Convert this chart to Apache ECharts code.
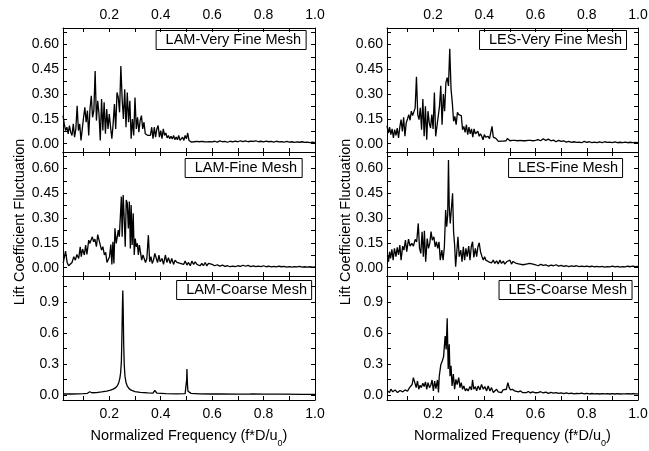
<!DOCTYPE html>
<html>
<head>
<meta charset="utf-8">
<script src="https://cdn.jsdelivr.net/npm/echarts@6/dist/echarts.min.js"></script>
<style>
  html, body { margin: 0; padding: 0; background: #fff; }
  #chart { width: 649px; height: 451px; }
</style>
</head>
<body>
<div id="chart"></div>
<script>
// frequency grid (f*D/u0) for the very fine mesh spectra, 0.02 .. 0.60
const gridFreq = [
  0.020,0.025,0.030,0.035,0.040,0.045,0.050,0.055,0.060,0.065,
  0.070,0.075,0.080,0.085,0.090,0.095,0.100,0.105,0.110,0.115,
  0.120,0.125,0.130,0.135,0.140,0.145,0.150,0.155,0.160,0.165,
  0.170,0.175,0.180,0.185,0.190,0.195,0.200,0.205,0.210,0.215,
  0.220,0.225,0.230,0.235,0.240,0.245,0.250,0.255,0.260,0.265,
  0.270,0.275,0.280,0.285,0.290,0.295,0.300,0.305,0.310,0.315,
  0.320,0.325,0.330,0.335,0.340,0.345,0.350,0.355,0.360,0.365,
  0.370,0.375,0.380,0.385,0.390,0.395,0.400,0.405,0.410,0.415,
  0.420,0.425,0.430,0.435,0.440,0.445,0.450,0.455,0.460,0.465,
  0.470,0.475,0.480,0.485,0.490,0.495,0.500,0.505,0.510,0.515,
  0.520,0.525,0.530,0.535,0.540,0.545,0.550,0.555,0.560,0.565,
  0.570,0.575,0.580,0.585,0.590,0.595,0.600
];
// high frequency tail, 0.61 .. 1.00
const tailFreq = [
  0.61,0.62,0.63,0.64,0.65,0.66,0.67,0.68,0.69,0.70,
  0.71,0.72,0.73,0.74,0.75,0.76,0.77,0.78,0.79,0.80,
  0.81,0.82,0.83,0.84,0.85,0.86,0.87,0.88,0.89,0.90,
  0.91,0.92,0.93,0.94,0.95,0.96,0.97,0.98,0.99,1.00
];

const lamVeryFine = [
  0.17,0.12,0.08,0.10,0.06,0.11,0.07,0.05,0.12,0.04,
  0.09,0.23,0.08,0.12,0.02,0.09,0.16,0.22,0.13,0.20,
  0.05,0.21,0.29,0.16,0.20,0.44,0.14,0.26,0.18,0.02,
  0.27,0.08,0.25,0.06,0.21,0.09,0.18,0.10,0.03,0.12,
  0.24,0.09,0.31,0.28,0.19,0.47,0.27,0.15,0.33,0.10,
  0.31,0.13,0.26,0.03,0.15,0.05,0.28,0.09,0.16,0.07,
  0.14,0.17,0.09,0.13,0.06,0.055,0.05,0.055,0.05,0.10,
  0.03,0.10,0.04,0.09,0.11,0.04,0.08,0.03,0.09,0.05,
  0.065,0.035,0.05,0.03,0.045,0.028,0.05,0.025,0.04,0.024,
  0.05,0.02,0.03,0.04,0.02,0.05,0.03,0.065,0.02,0.025,
  0.01,0.02,0.012,0.022,0.014,0.02,0.012,0.018,0.014,0.02,
  0.012,0.017,0.011,0.018,0.012,0.016,0.011
];
const lamVeryFineTail = [
  0.015,0.01,0.017,0.012,0.014,0.009,0.015,0.011,0.016,0.012,
  0.018,0.013,0.017,0.012,0.016,0.014,0.018,0.012,0.015,0.011,
  0.016,0.012,0.014,0.01,0.015,0.011,0.013,0.009,0.014,0.01,
  0.012,0.008,0.011,0.009,0.012,0.008,0.01,0.007,0.009,0.006
];

const lesVeryFine = [
  0.11,0.065,0.10,0.055,0.09,0.035,0.085,0.05,0.095,0.035,
  0.10,0.146,0.075,0.16,0.045,0.126,0.15,0.176,0.142,0.197,
  0.17,0.18,0.217,0.405,0.176,0.146,0.217,0.085,0.27,0.045,
  0.227,0.024,0.197,0.126,0.095,0.176,0.09,0.31,0.045,0.055,
  0.166,0.227,0.35,0.115,0.30,0.197,0.37,0.40,0.35,0.575,
  0.33,0.247,0.136,0.166,0.115,0.19,0.176,0.182,0.17,0.085,
  0.105,0.069,0.115,0.055,0.10,0.06,0.09,0.04,0.09,0.06,
  0.055,0.075,0.045,0.06,0.045,0.024,0.055,0.04,0.035,0.045,
  0.03,0.024,0.105,0.04,0.028,0.032,0.02,0.014,0.025,0.016,
  0.024,0.016,0.028,0.018,0.032,0.02,0.018,0.03,0.02,0.028,
  0.02,0.032,0.018,0.025,0.02,0.028,0.018,0.03,0.018,0.028,
  0.02,0.026,0.02,0.028,0.018,0.03,0.02
];
const lesVeryFineTail = [
  0.025,0.018,0.03,0.02,0.028,0.018,0.022,0.012,0.02,0.014,
  0.018,0.01,0.014,0.008,0.012,0.008,0.01,0.006,0.014,0.008,
  0.012,0.007,0.01,0.006,0.011,0.007,0.012,0.008,0.01,0.007,
  0.011,0.006,0.009,0.007,0.01,0.006,0.009,0.007,0.008,0.006
];

const lamFine = [
  [0.021,0.03],[0.023,0.046],[0.030,0.10],[0.036,0.032],[0.042,0.012],[0.049,0.016],[0.055,0.032],
  [0.062,0.067],[0.068,0.046],[0.074,0.08],[0.081,0.056],[0.087,0.127],[0.091,0.067],[0.096,0.113],
  [0.103,0.077],[0.108,0.137],[0.113,0.08],[0.120,0.167],[0.124,0.147],[0.129,0.137],[0.134,0.187],
  [0.139,0.157],[0.144,0.173],[0.150,0.127],[0.155,0.20],[0.160,0.197],[0.165,0.137],[0.170,0.107],
  [0.175,0.127],[0.181,0.077],[0.186,0.093],[0.191,0.032],[0.196,0.02],[0.201,0.067],[0.206,0.14],
  [0.210,0.02],[0.214,0.157],[0.218,0.026],[0.222,0.238],[0.227,0.147],[0.231,0.187],[0.235,0.228],
  [0.239,0.187],[0.243,0.187],[0.247,0.43],[0.250,0.187],[0.254,0.44],[0.258,0.30],[0.262,0.127],
  [0.266,0.41],[0.270,0.39],[0.274,0.238],[0.278,0.40],[0.282,0.117],[0.285,0.38],[0.289,0.137],
  [0.293,0.33],[0.297,0.077],[0.301,0.177],[0.305,0.127],[0.309,0.147],[0.313,0.077],[0.317,0.137],
  [0.320,0.107],[0.326,0.046],[0.331,0.077],[0.336,0.087],[0.341,0.032],[0.346,0.056],[0.352,0.197],
  [0.357,0.036],[0.362,0.067],[0.367,0.026],[0.372,0.046],[0.377,0.087],[0.383,0.056],[0.388,0.032],
  [0.393,0.077],[0.398,0.036],[0.405,0.056],[0.411,0.02],[0.418,0.077],[0.424,0.032],[0.430,0.06],
  [0.437,0.026],[0.443,0.056],[0.450,0.02],[0.456,0.046],[0.463,0.032],[0.469,0.04],[0.476,0.026],
  [0.482,0.032],[0.489,0.02],[0.495,0.04],[0.502,0.016],[0.508,0.032],[0.515,0.012],[0.521,0.04],
  [0.528,0.02],[0.534,0.036],[0.541,0.02],[0.547,0.032],[0.553,0.012],[0.560,0.026],[0.566,0.012],
  [0.573,0.032],[0.579,0.012],[0.586,0.026],[0.593,0.016],[0.600,0.02]
];
const lamFineTail = [
  0.012,0.018,0.01,0.016,0.008,0.012,0.006,0.01,0.007,0.012,
  0.008,0.015,0.009,0.014,0.007,0.011,0.006,0.01,0.007,0.012,
  0.006,0.009,0.005,0.008,0.005,0.009,0.006,0.008,0.004,0.007,
  0.004,0.007,0.005,0.008,0.004,0.006,0.004,0.006,0.004,0.005
];

const lesFine = [
  [0.022,0.077],[0.026,0.036],[0.030,0.097],[0.034,0.056],[0.039,0.111],[0.044,0.046],[0.049,0.117],
  [0.055,0.067],[0.060,0.123],[0.065,0.077],[0.070,0.137],[0.075,0.046],[0.081,0.131],[0.086,0.107],
  [0.092,0.167],[0.097,0.097],[0.104,0.173],[0.110,0.131],[0.117,0.147],[0.123,0.131],[0.130,0.171],
  [0.136,0.157],[0.142,0.268],[0.147,0.117],[0.152,0.087],[0.157,0.218],[0.162,0.067],[0.166,0.224],
  [0.171,0.036],[0.177,0.177],[0.182,0.117],[0.187,0.147],[0.192,0.218],[0.197,0.167],[0.203,0.187],
  [0.208,0.127],[0.213,0.157],[0.218,0.117],[0.223,0.157],[0.228,0.046],[0.234,0.107],[0.239,0.046],
  [0.244,0.127],[0.249,0.349],[0.253,0.248],[0.257,0.319],[0.260,0.651],[0.263,0.369],[0.267,0.268],
  [0.271,0.349],[0.276,0.45],[0.280,0.218],[0.284,0.137],[0.288,0.006],[0.292,0.087],[0.297,0.187],
  [0.302,0.067],[0.308,0.107],[0.313,0.036],[0.318,0.127],[0.323,0.046],[0.328,0.117],[0.333,0.067],
  [0.339,0.131],[0.344,0.046],[0.349,0.127],[0.354,0.157],[0.359,0.062],[0.365,0.117],[0.370,0.067],
  [0.375,0.127],[0.380,0.151],[0.385,0.097],[0.391,0.067],[0.396,0.046],[0.401,0.067],[0.406,0.046],
  [0.411,0.056],[0.417,0.036],[0.422,0.046],[0.428,0.03],[0.435,0.046],[0.441,0.026],[0.448,0.042],
  [0.454,0.022],[0.461,0.046],[0.467,0.026],[0.474,0.04],[0.480,0.022],[0.487,0.036],[0.493,0.026],
  [0.500,0.046],[0.506,0.022],[0.512,0.038],[0.519,0.03],[0.525,0.026],[0.532,0.036],[0.538,0.022],
  [0.545,0.03],[0.551,0.018],[0.558,0.03],[0.564,0.022],[0.571,0.018],[0.577,0.026],[0.584,0.016],
  [0.590,0.022],[0.600,0.018]
];
const lesFineTail = [
  0.012,0.02,0.014,0.018,0.01,0.016,0.012,0.018,0.01,0.014,
  0.008,0.012,0.007,0.011,0.008,0.012,0.007,0.01,0.006,0.01,
  0.006,0.009,0.005,0.008,0.005,0.008,0.004,0.007,0.005,0.009,
  0.005,0.008,0.004,0.007,0.005,0.009,0.006,0.01,0.006,0.008
];

const lamCoarse = [
  [0.021,0.008],[0.05,0.008],[0.08,0.01],[0.10,0.012],[0.115,0.015],[0.12,0.018],[0.124,0.03],
  [0.126,0.045],[0.128,0.03],[0.132,0.02],[0.15,0.022],[0.17,0.028],[0.19,0.035],[0.205,0.045],
  [0.215,0.055],[0.225,0.07],[0.232,0.09],[0.237,0.12],[0.241,0.16],[0.244,0.21],[0.247,0.32],
  [0.249,0.55],[0.251,0.85],[0.2525,1.01],[0.254,0.85],[0.256,0.5],[0.258,0.3],[0.261,0.18],
  [0.265,0.12],[0.27,0.085],[0.277,0.06],[0.285,0.045],[0.30,0.032],[0.32,0.024],[0.35,0.018],
  [0.37,0.017],[0.374,0.03],[0.377,0.042],[0.38,0.025],[0.385,0.016],[0.42,0.012],[0.46,0.01],
  [0.495,0.012],[0.499,0.03],[0.501,0.15],[0.502,0.25],[0.504,0.1],[0.506,0.035],[0.51,0.022],
  [0.513,0.025],[0.518,0.014],[0.55,0.01],[0.6,0.008],[0.62,0.008],[0.625,0.018],[0.63,0.008],
  [0.7,0.006],[0.745,0.007],[0.75,0.022],[0.755,0.008],[0.8,0.006],[0.87,0.006],[0.875,0.012],
  [0.88,0.006],[0.95,0.005],[1.0,0.005]
];

const lesCoarse = [
  [0.022,0.038],[0.030,0.022],[0.035,0.054],[0.043,0.029],[0.052,0.048],[0.061,0.022],[0.071,0.042],
  [0.082,0.029],[0.091,0.048],[0.100,0.035],[0.108,0.07],[0.113,0.054],[0.118,0.10],[0.123,0.166],
  [0.129,0.15],[0.134,0.07],[0.139,0.134],[0.144,0.054],[0.149,0.093],[0.154,0.07],[0.160,0.112],
  [0.165,0.08],[0.170,0.125],[0.175,0.054],[0.180,0.118],[0.186,0.07],[0.191,0.093],[0.196,0.144],
  [0.201,0.038],[0.206,0.134],[0.211,0.06],[0.217,0.144],[0.221,0.022],[0.224,0.18],[0.230,0.29],
  [0.236,0.33],[0.241,0.37],[0.247,0.57],[0.251,0.44],[0.255,0.74],[0.259,0.25],[0.263,0.49],
  [0.266,0.18],[0.270,0.28],[0.274,0.086],[0.279,0.2],[0.284,0.054],[0.289,0.15],[0.294,0.10],
  [0.300,0.166],[0.305,0.07],[0.310,0.118],[0.315,0.054],[0.320,0.086],[0.326,0.038],[0.331,0.06],
  [0.337,0.038],[0.344,0.08],[0.350,0.048],[0.354,0.144],[0.359,0.054],[0.365,0.08],[0.370,0.038],
  [0.376,0.086],[0.383,0.048],[0.389,0.10],[0.396,0.054],[0.402,0.08],[0.409,0.038],[0.415,0.086],
  [0.422,0.038],[0.428,0.07],[0.435,0.022],[0.441,0.038],[0.448,0.054],[0.454,0.029],[0.460,0.038],
  [0.467,0.022],[0.473,0.048],[0.480,0.029],[0.486,0.054],[0.492,0.118],[0.497,0.07],[0.502,0.048],
  [0.510,0.054],[0.518,0.038],[0.525,0.048],[0.533,0.029],[0.541,0.038],[0.549,0.022],[0.556,0.035],
  [0.564,0.022],[0.572,0.032],[0.580,0.019],[0.588,0.029],[0.600,0.02]
];
const lesCoarseTail = [
  0.022,0.03,0.018,0.026,0.015,0.024,0.016,0.022,0.014,0.02,
  0.012,0.018,0.012,0.016,0.01,0.015,0.011,0.016,0.01,0.014,
  0.009,0.013,0.009,0.012,0.008,0.012,0.009,0.011,0.008,0.012,
  0.008,0.011,0.008,0.01,0.009,0.012,0.008,0.011,0.009,0.01
];

// axis ticks and labels
const xTickValues = [0.1,0.2,0.3,0.4,0.5,0.6,0.7,0.8,0.9,1.0];
const xLabelValues = [0.2,0.4,0.6,0.8,1.0];
const yTickFine = [0,0.075,0.15,0.225,0.3,0.375,0.45,0.525,0.6,0.675];
const yLabelFine = [0,0.15,0.3,0.45,0.6];
const yTickCoarse = [0,0.15,0.3,0.45,0.6,0.75,0.9,1.05];
const yLabelCoarse = [0,0.3,0.6,0.9];

const zip = (fs, vs) => fs.map((f, k) => [f, vs[k]]);

const panels = [
  {name: 'LAM-Very Fine Mesh', col: 0, row: 0, data: zip(gridFreq, lamVeryFine).concat(zip(tailFreq, lamVeryFineTail))},
  {name: 'LES-Very Fine Mesh', col: 1, row: 0, data: zip(gridFreq, lesVeryFine).concat(zip(tailFreq, lesVeryFineTail))},
  {name: 'LAM-Fine Mesh', col: 0, row: 1, data: lamFine.concat(zip(tailFreq, lamFineTail))},
  {name: 'LES-Fine Mesh', col: 1, row: 1, data: lesFine.concat(zip(tailFreq, lesFineTail))},
  {name: 'LAM-Coarse Mesh', col: 0, row: 2, data: lamCoarse},
  {name: 'LES-Coarse Mesh', col: 1, row: 2, data: lesCoarse.concat(zip(tailFreq, lesCoarseTail))}
];

// layout in px
const colLeft = [63, 387];
const colWidth = [252, 251];
const rowTop = [28, 152, 276];
const rowHeight = 124;
const boxRight = [[343, 22], [347, 26], [337, 17]];
const boxTop = [30, 158, 280];
const yTitleX = [20, 346];
const yTitleY = 222;
const font = '"Liberation Sans", Arial, Helvetica, sans-serif';
const black = '#000';

const xName = '{a|Normalized Frequency (f*D/u}{s|0}{a|)}';
const yName = 'Lift Coefficient Fluctuation';

function makeX(gridIndex, position, showLabel, withName) {
  return {
    type: 'value', gridIndex, position, min: 0.02, max: 1.0,
    axisLine: {show: true, onZero: false, lineStyle: {color: black, width: 1}},
    axisTick: {show: true, inside: true, length: 4, customValues: xTickValues, lineStyle: {color: black}},
    axisLabel: {show: showLabel, customValues: xLabelValues, formatter: v => v.toFixed(1),
      margin: position === 'bottom' ? 7 : 6, color: black, fontSize: 14, fontFamily: font},
    splitLine: {show: false},
    name: withName ? xName : '',
    nameLocation: 'middle',
    nameGap: 28,
    nameTextStyle: {
      color: black,
      rich: {
        a: {fontSize: 14.5, fontFamily: font, color: black, lineHeight: 17, verticalAlign: 'top'},
        s: {fontSize: 9, fontFamily: font, color: black, lineHeight: 9, padding: [11, 0, 0, 0], verticalAlign: 'top'}
      }
    }
  };
}

function makeY(gridIndex, position, coarse, showLabel) {
  return {
    type: 'value', gridIndex, position,
    min: -0.05, max: coarse ? 1.15 : 0.7,
    axisLine: {show: true, onZero: false, lineStyle: {color: black, width: 1}},
    axisTick: {show: true, inside: true, length: 4, customValues: coarse ? yTickCoarse : yTickFine, lineStyle: {color: black}},
    axisLabel: {show: showLabel, customValues: coarse ? yLabelCoarse : yLabelFine,
      formatter: v => v.toFixed(coarse ? 1 : 2), margin: 4, color: black, fontSize: 14, fontFamily: font},
    splitLine: {show: false}
  };
}

const grid = [], xAxis = [], yAxis = [], series = [], title = [];
panels.forEach((p, i) => {
  grid.push({left: colLeft[p.col], top: rowTop[p.row], width: colWidth[p.col], height: rowHeight,
    containLabel: false, outerBoundsMode: 'none'});
  const coarse = p.row === 2;
  xAxis.push(makeX(i, 'bottom', p.row === 2, p.row === 2));
  xAxis.push(makeX(i, 'top', p.row === 0, false));
  yAxis.push(makeY(i, 'left', coarse, true));
  yAxis.push(makeY(i, 'right', coarse, false));
  series.push({
    type: 'line', xAxisIndex: 2 * i, yAxisIndex: 2 * i, data: p.data,
    showSymbol: false, silent: true,
    lineStyle: {color: black, width: 1.3}, itemStyle: {color: black}
  });
  title.push({
    text: p.name, right: boxRight[p.row][p.col], top: boxTop[p.row],
    padding: [2, 5, 2, 10], borderColor: black, borderWidth: 1,
    textStyle: {fontSize: 14.5, fontWeight: 'normal', color: black, fontFamily: font, lineHeight: 16}
  });
});

// rotated y titles, one per column
const graphic = yTitleX.map(x => ({
  type: 'text', x, y: yTitleY, rotation: Math.PI / 2, silent: true,
  style: {text: yName, fill: black, fontSize: 14.5, fontFamily: font, align: 'center', verticalAlign: 'middle'}
}));

const chart = echarts.init(document.getElementById('chart'), null, {renderer: 'canvas'});
chart.setOption({
  backgroundColor: '#fff',
  animation: false,
  title, grid, xAxis, yAxis, series, graphic
});
</script>
</body>
</html>
